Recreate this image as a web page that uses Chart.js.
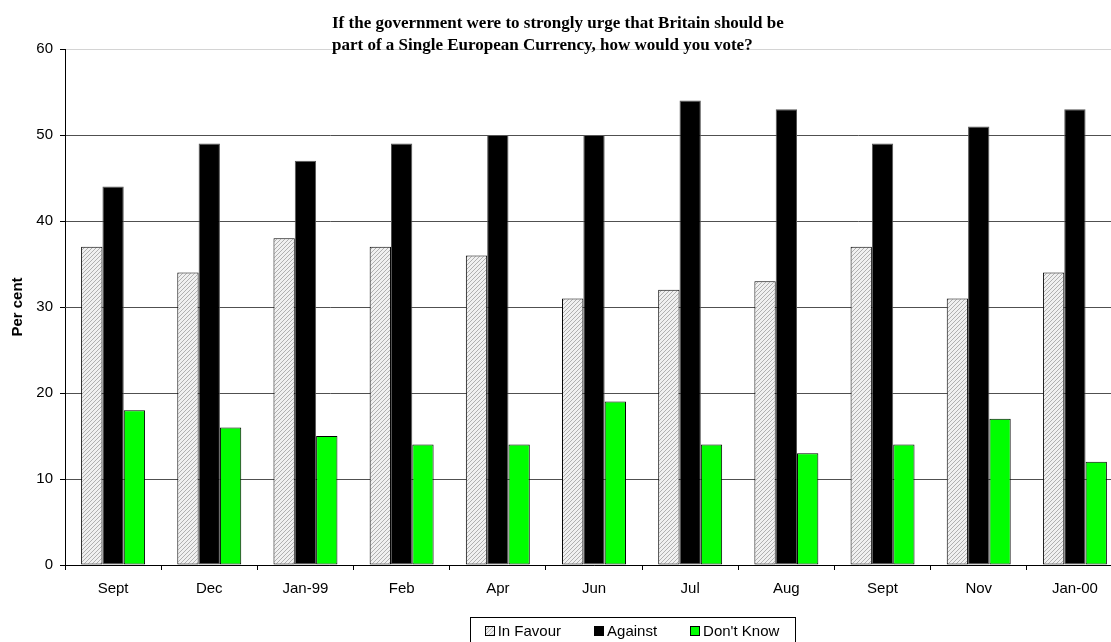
<!DOCTYPE html>
<html>
<head>
<meta charset="utf-8">
<script src="https://cdn.jsdelivr.net/npm/chart.js@4/dist/chart.umd.min.js"></script>
<style>
  html, body { margin: 0; padding: 0; background: #fff; overflow: hidden; }
  #wrap { width: 1140px; height: 660px; }
</style>
</head>
<body>
<div id="wrap"><canvas id="c" width="1140" height="660"></canvas></div>
<script>
// Survey months
const months = ['Sept', 'Dec', 'Jan-99', 'Feb', 'Apr', 'Jun', 'Jul', 'Aug', 'Sept', 'Nov', 'Jan-00'];
// Responses, per cent
const inFavour = [37, 34, 38, 37, 36, 31, 32, 33, 37, 31, 34];
const against  = [44, 49, 47, 49, 50, 50, 54, 53, 49, 51, 53];
const dontKnow = [18, 16, 15, 14, 14, 19, 14, 13, 14, 17, 12];
// Value axis ticks
const yTicks = [0, 10, 20, 30, 40, 50, 60];

const titleLines = [
  'If the government were to strongly urge that Britain should be',
  'part of a Single European Currency, how would you vote?'
];

const SANS = '"Liberation Sans", Arial, sans-serif';
const SERIF = '"Liberation Serif", "Times New Roman", serif';

// Light diagonal hatch for the "In Favour" bars
function hatchPattern() {
  const p = document.createElement('canvas');
  p.width = 4; p.height = 4;
  const g = p.getContext('2d');
  g.fillStyle = '#f0f0f0';
  g.fillRect(0, 0, 4, 4);
  g.strokeStyle = '#b0b0b0';
  g.lineWidth = 1;
  g.beginPath();
  g.moveTo(0, 4); g.lineTo(4, 0);
  g.moveTo(-1, 1); g.lineTo(1, -1);
  g.moveTo(3, 5); g.lineTo(5, 3);
  g.stroke();
  return document.getElementById('c').getContext('2d').createPattern(p, 'repeat');
}
const hatch = hatchPattern();

// Two-line heading, left aligned
const headingPlugin = {
  id: 'heading',
  afterDatasetsDraw(chart) {
    const ctx = chart.ctx;
    ctx.save();
    ctx.font = 'bold 17px ' + SERIF;
    ctx.fillStyle = '#000';
    ctx.textAlign = 'left';
    ctx.textBaseline = 'alphabetic';
    ctx.fillText(titleLines[0], 332, 28);
    ctx.fillText(titleLines[1], 332, 50);
    ctx.restore();
  }
};

// Framed legend below the axis
const framedLegend = {
  id: 'framedLegend',
  afterDraw(chart) {
    const ctx = chart.ctx;
    ctx.save();
    ctx.font = '15px ' + SANS;
    const sq = 9, gap = 4, spacing = 33;
    const items = chart.data.datasets.map(d => ({
      label: d.label, fill: d.backgroundColor, w: sq + gap + ctx.measureText(d.label).width
    }));
    const total = items.reduce((s, it) => s + it.w, 0) + spacing * (items.length - 1);
    const cx = 632;
    const top = 617, h = 36;
    const padX = 15;
    ctx.strokeStyle = '#000';
    ctx.lineWidth = 1;
    ctx.strokeRect(Math.round(cx - total / 2 - padX) + 0.5, top + 0.5, Math.round(total + 2 * padX), h);
    let x = cx - total / 2;
    const cy = 631;
    ctx.textBaseline = 'middle';
    ctx.textAlign = 'left';
    items.forEach(it => {
      const sx = Math.round(x) + 0.5, sy = cy - 5 + 0.5;
      ctx.fillStyle = it.fill;
      ctx.fillRect(sx, sy, sq, sq);
      ctx.strokeStyle = '#000';
      ctx.strokeRect(sx, sy, sq, sq);
      ctx.fillStyle = '#000';
      ctx.fillText(it.label, x + sq + gap, cy + 1);
      x += it.w + spacing;
    });
    ctx.restore();
  }
};

new Chart(document.getElementById('c'), {
  type: 'bar',
  data: {
    labels: months,
    datasets: [
      { label: 'In Favour', data: inFavour, backgroundColor: hatch, borderColor: '#000', borderWidth: 1 },
      { label: 'Against', data: against, backgroundColor: '#000', borderColor: '#555', borderWidth: 1 },
      { label: "Don't Know", data: dontKnow, backgroundColor: '#00ff00', borderColor: '#000', borderWidth: 1 }
    ]
  },
  options: {
    responsive: false,
    animation: false,
    devicePixelRatio: 1,
    layout: { padding: { top: 49, right: 17, bottom: 55, left: 0 } },
    datasets: { bar: { categoryPercentage: 0.665, barPercentage: 1.0, borderSkipped: false } },
    plugins: {
      legend: { display: false },
      title: { display: false },
      tooltip: { enabled: false }
    },
    scales: {
      x: {
        offset: true,
        grid: { offset: true, drawOnChartArea: false, drawTicks: true, tickLength: 5, tickColor: '#000' },
        border: { display: true, color: '#000', width: 1 },
        ticks: { color: '#000', font: { family: SANS, size: 15 }, padding: 10, maxRotation: 0, autoSkip: false },
        afterFit(scale) { scale.height = 40; }
      },
      y: {
        min: 0, max: 60,
        afterBuildTicks(scale) { scale.ticks = yTicks.map(v => ({ value: v })); },
        grid: {
          color: ctx => (ctx.tick && ctx.tick.value === 60 ? '#d4d4d4' : '#505050'),
          lineWidth: 1, drawTicks: true, tickLength: 5, tickColor: '#000'
        },
        border: { display: true, color: '#000', width: 1 },
        ticks: { color: '#000', font: { family: SANS, size: 15 }, padding: 7 },
        title: { display: true, text: 'Per cent', color: '#000', font: { family: SANS, size: 15, weight: 'bold' }, padding: { top: 9, bottom: 0 } },
        afterFit(scale) { scale.width = 65; }
      }
    }
  },
  plugins: [headingPlugin, framedLegend]
});
</script>
</body>
</html>
